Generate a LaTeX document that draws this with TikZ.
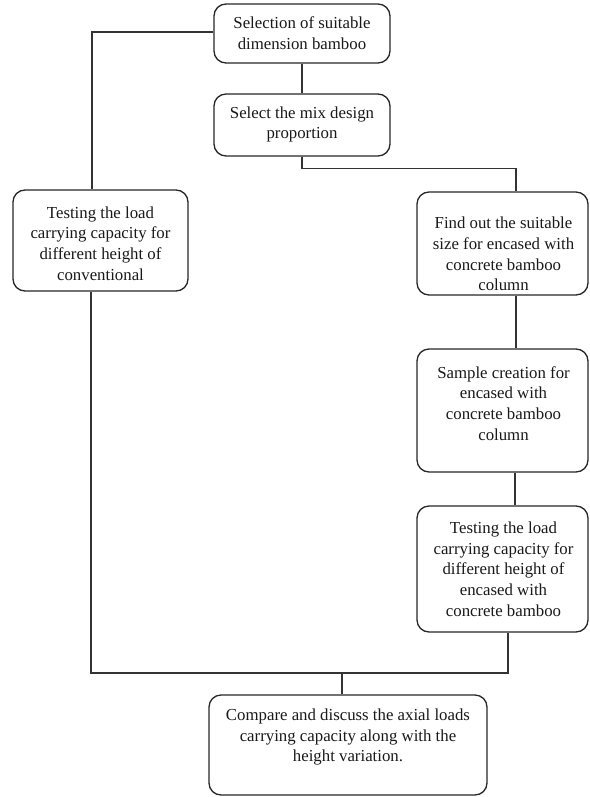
\documentclass[tikz,border=0pt]{standalone}
\usepackage{fontspec}
\setmainfont{Liberation Serif}
\begin{document}
\begin{tikzpicture}[x=1pt,y=-1pt,
  box/.style={draw=black!85, line width=1.3pt, rounded corners=12pt, inner sep=0pt},
  txt/.style={align=center, font=\fontsize{16.8}{20.7}\selectfont, text=black!90, inner sep=0pt},
  link/.style={draw=black!80, line width=1.3pt}]
\useasboundingbox (0,0) rectangle (589,797);
% boxes
\node[box, minimum width=176pt, minimum height=59pt] (b1) at (302,33.5) {};
\node[box, minimum width=176pt, minimum height=62pt] (b2) at (302,125) {};
\node[box, minimum width=175pt, minimum height=101pt] (bL) at (100.5,240.5) {};
\node[box, minimum width=171pt, minimum height=103pt] (r1) at (502.5,243.5) {};
\node[box, minimum width=171pt, minimum height=123pt] (r2) at (502.5,410.5) {};
\node[box, minimum width=171pt, minimum height=126pt] (r3) at (502.5,569) {};
\node[box, minimum width=278pt, minimum height=100pt] (bB) at (348,745) {};
% texts
\node[txt] (t1) at (302,33.5) {Selection of suitable\\dimension bamboo};
\node[txt] (t2) at (302,124.5) {Select the mix design\\proportion};
\node[txt] (tL) at (100.5,243.5) {Testing the load\\carrying capacity for\\different height of\\conventional};
\node[txt] (tR1) at (503.5,254) {Find out the suitable\\size for encased with\\concrete bamboo\\column};
\node[txt] (tR2) at (503.5,403.5) {Sample creation for\\encased with\\concrete bamboo\\column};
\node[txt] (tR3) at (503.5,569) {Testing the load\\carrying capacity for\\different height of\\encased with\\concrete bamboo};
\node[txt] (tB) at (348,737) {Compare and discuss the axial loads\\carrying capacity along with the\\height variation.};
% connectors
\coordinate (j) at (342,673);
\draw[link] ([yshift=1.5pt]b1.west) -| ([xshift=-8.5pt]bL.north);
\draw[link] (b1.south) -- (b2.north);
\draw[link] (b2.south) -- ++(0,12) -| ([xshift=13.5pt]r1.north);
\draw[link] ([xshift=13.5pt]r1.south) -- ([xshift=13.5pt]r2.north);
\draw[link] ([xshift=12.5pt]r2.south) -- ([xshift=12.5pt]r3.north);
\draw[link] ([xshift=5.5pt]r3.south) |- (j) -| ([xshift=-9.5pt]bL.south);
\draw[link] (j) -- (j |- bB.north);
\end{tikzpicture}
\end{document}
